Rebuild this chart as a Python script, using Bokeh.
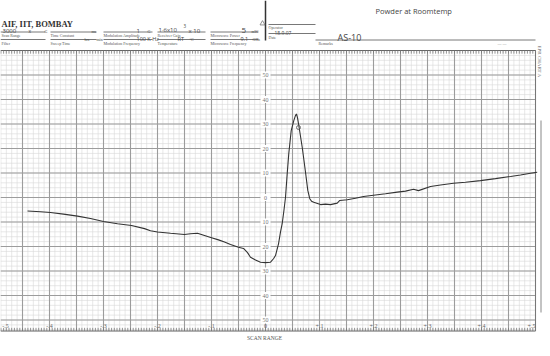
import numpy as np
from bokeh.plotting import figure
from bokeh.core.properties import value
from bokeh.embed import file_html
from bokeh.resources import INLINE

# ---- data: scan range (fraction of full scan) and signal (chart divisions) ----
scan = [-0.4407, -0.4167, -0.3981, -0.3741, -0.3481, -0.3241, -0.3000, -0.2741,
        -0.2481, -0.2241, -0.2130, -0.2000, -0.1759, -0.1500, -0.1389, -0.1259,
        -0.1130, -0.1000, -0.0870, -0.0759, -0.0648, -0.0500, -0.0407, -0.0333,
        -0.0278, -0.0185, -0.0093, 0.0000, 0.0093, 0.0148, 0.0185, 0.0241,
        0.0278, 0.0309, 0.0343, 0.0370, 0.0402, 0.0431, 0.0476, 0.0524,
        0.0556, 0.0574, 0.0593, 0.0617, 0.0648, 0.0680, 0.0713, 0.0741,
        0.0783, 0.0820, 0.0852, 0.0894, 0.1019, 0.1111, 0.1204, 0.1328,
        0.1376, 0.1513, 0.1667, 0.1815, 0.2037, 0.2222, 0.2439, 0.2593,
        0.2741, 0.2833, 0.3056, 0.3241, 0.3481, 0.3704, 0.3981, 0.4259,
        0.4537, 0.4722, 0.4907, 0.5031]
signal = [-5.5, -5.8, -6.1, -6.8, -7.6, -8.6, -9.8, -10.7,
          -11.4, -12.7, -13.6, -14.1, -14.6, -15.1, -14.8, -14.6,
          -15.5, -16.4, -17.3, -18.2, -19.2, -20.3, -20.8, -22.5,
          -24.4, -25.5, -26.4, -26.6, -26.4, -25.0, -23.7, -18.9,
          -14.0, -10.7, -5.0, 0.0, 9.7, 17.9, 27.3, 31.4,
          33.5, 34.1, 32.5, 29.4, 25.0, 20.5, 15.0, 10.3,
          2.9, -0.5, -1.5, -1.9, -2.9, -2.7, -2.9, -2.3,
          -1.2, -0.9, -0.3, 0.4, 1.0, 1.5, 2.2, 2.6,
          3.4, 2.8, 4.5, 5.1, 5.8, 6.2, 6.9, 7.7,
          8.6, 9.2, 9.9, 10.3]
scan_ticks = [-0.5, -0.4, -0.3, -0.2, -0.1, 0.0, 0.1, 0.2, 0.3, 0.4, 0.5]
scan_labels = ["-.5", "-.4", "-.3", "-.2", "-.1", "0", "+.1", "+.2", "+.3", "+.4", "+.5"]
div_ticks = [50, 40, 30, 20, 10, 0, -10, -20, -30, -40, -50]
div_labels = ["50", "40", "30", "20", "10", "0", "10", "20", "30", "40", "50"]

# ---- geometry helpers (picture pixel -> data) ----
X0, PXU = 265.0, 540.0   # picture x of scan 0, px per unit scan
Y0, PYU = 197.0, 2.45    # picture y of signal 0, px per division
def X(px):
    return (px - X0) / PXU
def Y(py):
    return (Y0 - py) / PYU

W, H = 542, 340
p = figure(width=W, height=H, output_backend="svg", toolbar_location=None,
           x_range=(X(0), X(W)), y_range=(Y(H), Y(0)),
           min_border=0, background_fill_color="white", border_fill_color="white")
p.axis.visible = False
p.grid.visible = False
p.outline_line_color = None

xl, xr = X(0), 0.5
yt, yb = 60, -54.5
# minor grid
mx = np.arange(-0.49, 0.5001, 0.01)
p.segment(x0=mx, y0=yb, x1=mx, y1=yt, line_color="#d6d6d6", line_width=0.6)
my = np.arange(-54, 60.01, 2)
p.segment(x0=xl, y0=my, x1=xr, y1=my, line_color="#d6d6d6", line_width=0.6)
# major grid
Mx = np.arange(-0.45, 0.5001, 0.05)
p.segment(x0=Mx, y0=yb, x1=Mx, y1=yt, line_color="#9c9c9c", line_width=1.1)
My = np.arange(-50, 50.01, 10)
p.segment(x0=xl, y0=My, x1=xr, y1=My, line_color="#9c9c9c", line_width=1.1)
p.segment(x0=[0.5], y0=[yb], x1=[0.5], y1=[yt], line_color="#777777", line_width=1)
# rulers
rt = np.arange(-0.49, 0.5001, 0.005)
p.segment(x0=xl, y0=[yt, yb], x1=xr, y1=[yt, yb], line_color="#666666", line_width=1)
p.segment(x0=rt, y0=yt, x1=rt, y1=yt - 1.3, line_color="#777777", line_width=0.8)
p.segment(x0=rt, y0=yb, x1=rt, y1=yb + 1.3, line_color="#777777", line_width=0.8)

# center division labels
p.rect(x=[0.0] * len(div_ticks), y=div_ticks, width=10, height=7,
       width_units="screen", height_units="screen", fill_color="white", line_color=None)
p.text(x=[0.0] * len(div_ticks), y=div_ticks, text=div_labels, text_align="center",
       text_baseline="middle", text_font=value("Liberation Serif"),
       text_font_size="6px", text_color="#777777")

# scan range labels
sx = [min(max(t, X(5)), X(531)) for t in scan_ticks]
p.text(x=sx, y=[Y(325)] * len(sx), text=scan_labels, text_align="center",
       text_baseline="middle", text_font=value("Liberation Serif"),
       text_font_size="6px", text_color="#666666")
p.text(x=[X(264)], y=[Y(337.5)], text=["SCAN RANGE"], text_align="center",
       text_baseline="alphabetic", text_font=value("Liberation Serif"),
       text_font_size="5.5px", text_color="#555555")

# spectrum trace
p.line(scan, signal, line_color="#333333", line_width=1.1)
p.scatter([X(298)], [Y(127)], size=4, marker="circle", fill_color=None,
          line_color="#555555", line_width=0.8)

# ---- header form ----
def htext(px, py, s, size, font="Liberation Serif", color="#444444", style="normal",
          align="left", baseline="alphabetic", angle=0.0):
    p.text(x=[X(px)], y=[Y(py)], text=[s], text_font=value(font), text_font_size=size,
           text_color=color, text_font_style=style, text_align=align,
           text_baseline=baseline, angle=angle)

def hline(x0, x1, py, color="#555555", w=0.8):
    p.segment(x0=[X(x0)], y0=[Y(py)], x1=[X(x1)], y1=[Y(py)], line_color=color, line_width=w)

htext(1, 23, "AIF, IIT, BOMBAY", "8.5px", style="bold", color="#333333")
for a, b in [(0, 45), (50, 96), (103, 152), (157, 205), (210, 258)]:
    hline(a, b, 31.5)
    hline(a, b, 39)
small = "4px"
for px, s in [(1, "Scan Range"), (50, "Time Constant"), (103, "Modulation Amplitude"),
              (157, "Receiver Gain"), (210, "Microwave Power")]:
    htext(px, 35, s, small, color="#555555")
for px, s in [(1, "Filter"), (50, "Sweep Time"), (103, "Modulation Frequency"),
              (157, "Temperature"), (210, "Microwave Frequency")]:
    htext(px, 42.5, s, small, color="#555555")
hand = "Open Sans"
htext(2, 30, "3000", "6px", font=hand)
htext(28, 30, "x", "5px", font=hand)
htext(44, 31, "G", "4px")
htext(91, 31, "ms", "4px")
htext(136, 30, "1", "6px", font=hand)
htext(147, 31, "G", "4px")
htext(158, 29, "1·6x10", "6px", font=hand)
htext(183, 25, "3", "4.5px", font=hand)
htext(188, 30, "x 10", "6px", font=hand)
htext(241, 30, "5", "8px", font=hand)
htext(251, 31, "mW", "4px")
htext(84, 38.5, "hrs", "4px")
htext(96, 38.5, "min", "4px")
htext(136, 38, "100 K Hz", "5.5px", font=hand)
htext(177, 38, "RT", "5.5px", font=hand)
htext(189, 38.5, "°C", "4px")
htext(240, 38, "9.1", "5.5px", font=hand)
htext(252, 38.5, "GHz", "4px")

p.segment(x0=[X(265)], y0=[Y(0)], x1=[X(265)], y1=[Y(40)], line_color="#333333", line_width=1.5)
p.scatter([X(262)], [Y(23)], size=5, marker="triangle", fill_color=None,
          line_color="#777777", line_width=0.8)
hline(268, 315, 24)
htext(268, 27, "Operator", small, color="#555555")
htext(274, 32.5, "18.9.07", "5px", font=hand)
hline(268, 315, 33)
htext(268, 36.5, "Date", small, color="#555555")
htext(337, 37, "AS-10", "9px", font=hand)
hline(315, 535, 39.5)
htext(318, 43, "Remarks", small, color="#555555")
htext(497, 43, "— —", small, color="#777777")
htext(375, 10, "Powder at Roomtemp", "7.5px", font=hand)
htext(538.5, 45, "EPR CHART A", "5px", color="#666666", baseline="middle", angle=-np.pi / 2)
p.segment(x0=[X(540.5)], y0=[Y(120)], x1=[X(540.5)], y1=[Y(312)], line_color="#888888", line_width=1)

open("out.html", "w").write(file_html(p, INLINE))
